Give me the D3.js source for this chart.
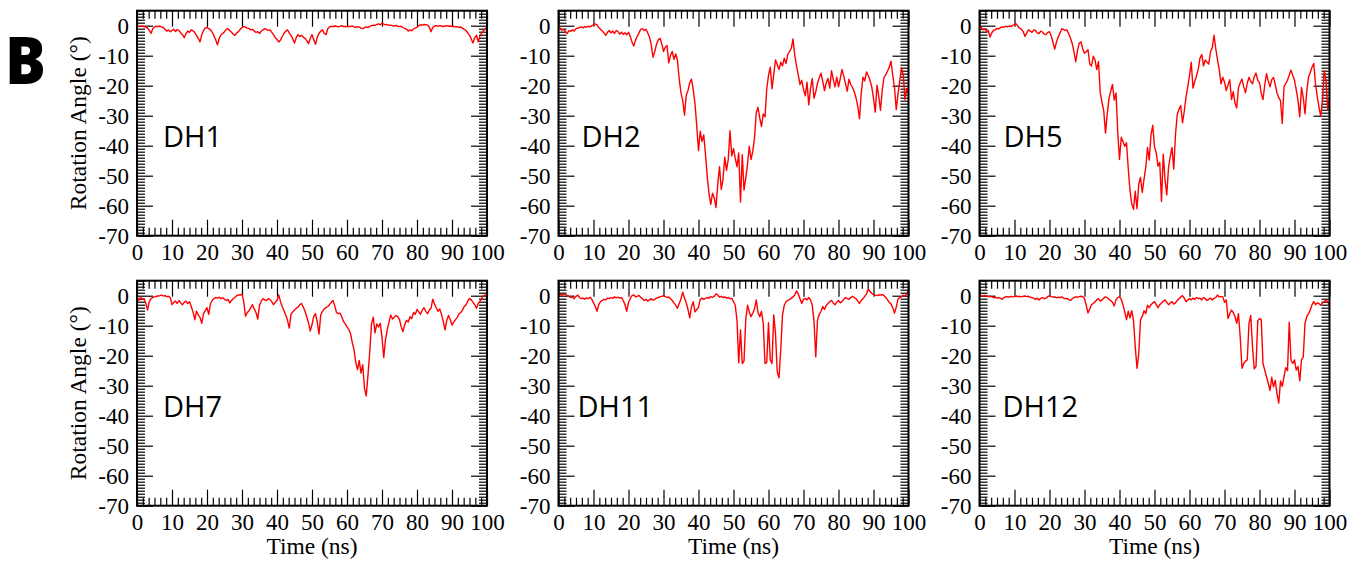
<!DOCTYPE html>
<html>
<head>
<meta charset="utf-8">
<script src="https://cdn.jsdelivr.net/npm/d3@7"></script>
<style>
  body { margin: 0; background: #fff; }
  svg { display: block; }
</style>
</head>
<body>
<svg id="chart" width="1366" height="562"></svg>
<script>
const timeStep = 0.5;

const dh1 = [
  0, -0.2, -0.3, -0.1, -0.4, -0.3, -0.8, -1.5, -2.6, -1.0, -0.4, -0.2, -0.3, -0.1, -0.4, -0.6, -1.2, -1.8, -1.4, -2.0,
  -1.6, -1.2, -1.9, -1.3, -1.6, -2.4, -3.0, -4.0, -2.6, -1.8, -2.2, -1.4, -1.7, -2.3, -3.2, -4.2, -5.4, -3.0, -1.6, -0.8,
  -0.5, -1.0, -1.4, -2.2, -3.4, -4.8, -6.4, -4.2, -3.0, -2.6, -2.0, -1.2, -1.0, -1.6, -2.2, -2.8, -3.2, -2.4, -2.0, -1.2,
  -0.6, -0.3, -0.5, -0.8, -1.0, -1.4, -1.2, -1.8, -2.2, -2.0, -2.6, -1.8, -1.4, -1.0, -1.2, -1.6, -1.4, -2.2, -3.0, -4.0,
  -4.6, -5.4, -4.8, -3.6, -2.6, -1.8, -1.4, -2.4, -3.2, -4.4, -5.8, -4.0, -3.0, -3.6, -3.2, -3.8, -4.2, -5.0, -6.0, -4.2,
  -3.0, -4.6, -6.2, -3.8, -2.6, -1.8, -1.4, -2.6, -3.0, -1.0, -0.4, -0.2, -0.3, -0.1, -0.2, -0.4, -0.2, 0.0, -0.3, -0.2,
  -0.4, -0.2, -0.3, -0.1, -0.4, -0.6, -0.3, -0.5, -0.8, -1.0, -0.6, -0.4, -0.6, -0.2, 0.0, 0.2, 0.1, 0.4, 0.6, 0.3,
  0.8, 0.5, 0.3, 0.4, 0.1, 0.2, 0.0, -0.1, 0.1, -0.2, -0.3, -0.2, -0.6, -0.9, -1.2, -1.8, -1.4, -1.7, -1.1, -0.8,
  -0.5, 0.0, 0.3, 0.2, 0.4, 0.3, 0.2, -0.4, -2.0, -0.6, -0.1, 0.0, -0.2, 0.0, -0.1, -0.3, -0.1, 0.0, -0.2, -0.1,
  -0.3, -0.2, -0.4, -0.3, -0.6, -0.4, -0.8, -1.2, -1.6, -2.4, -3.2, -4.4, -5.8, -4.0, -3.2, -5.4, -3.4, -2.4, -1.6, -1.0,
  -0.6
];

const dh2 = [
  0, -0.8, -1.5, -1.2, -2.0, -2.6, -1.6, -1.9, -1.4, -1.8, -1.0, -0.8, -0.6, -0.4, -0.7, -0.3, -0.5, -0.2, -0.4, 0.0,
  0.3, 0.6, 0.2, -0.6, -1.2, -1.8, -2.4, -3.2, -2.2, -1.6, -2.4, -1.8, -2.6, -1.6, -2.0, -2.8, -2.2, -2.9, -2.4, -3.0,
  -2.2, -3.6, -5.4, -6.8, -4.8, -3.6, -2.4, -1.2, -1.0, -1.6, -1.2, -2.4, -3.8, -6.5, -10.5, -8.6, -6.2, -4.8, -4.2, -6.0,
  -8.6, -7.2, -6.6, -12.4, -9.8, -8.6, -11.2, -9.4, -11.6, -18.0, -22.4, -25.0, -29.8, -23.2, -21.6, -19.0, -17.8, -21.4, -26.0, -33.4,
  -41.6, -35.2, -38.6, -36.4, -43.0, -50.4, -56.0, -59.6, -55.8, -57.4, -60.6, -52.8, -47.0, -54.6, -51.2, -43.8, -48.2, -44.6, -35.0, -43.4,
  -41.0, -44.2, -47.0, -42.4, -58.8, -43.0, -54.8, -51.0, -46.2, -40.2, -44.6, -42.0, -37.4, -29.0, -27.2, -30.8, -33.6, -29.4, -30.4, -21.0,
  -16.6, -13.8, -21.0, -16.2, -11.4, -13.0, -14.6, -12.2, -13.4, -10.8, -12.6, -9.6, -8.6, -7.6, -4.4, -9.8, -13.4, -16.4, -19.6, -18.2,
  -21.2, -23.4, -18.8, -26.4, -21.0, -17.6, -24.2, -22.0, -19.2, -17.4, -15.8, -18.6, -21.6, -19.0, -17.6, -20.8, -15.0, -17.8, -20.4, -17.2,
  -20.4, -17.6, -14.6, -16.8, -19.4, -21.8, -17.8, -19.6, -20.6, -22.0, -24.0, -26.8, -31.0, -22.4, -17.2, -18.4, -15.4, -16.6, -18.2, -20.4,
  -24.2, -28.8, -19.8, -23.6, -28.2, -21.4, -17.2, -16.4, -15.2, -13.8, -11.8, -16.6, -20.6, -28.0, -22.8, -18.4, -14.0, -16.4, -24.6, -20.8,
  -22.6
];

const dh5 = [
  0, -0.6, -1.4, -1.0, -2.0, -1.6, -3.8, -2.4, -1.6, -1.4, -0.9, -1.1, -0.6, -0.4, -0.5, -0.2, -0.4, -0.1, -0.3, 0.1,
  0.4, 0.6, -0.2, -0.9, -1.2, -2.0, -3.6, -2.4, -1.4, -1.8, -2.2, -1.4, -1.6, -2.4, -2.6, -1.8, -2.1, -2.8, -3.0, -2.2,
  -2.0, -3.4, -5.6, -7.8, -5.4, -3.8, -2.4, -1.0, -1.2, -1.6, -1.4, -2.8, -4.2, -6.0, -8.8, -12.0, -8.2, -5.8, -5.4, -7.8,
  -9.2, -8.6, -8.0, -12.8, -13.4, -10.2, -11.4, -14.6, -12.0, -22.4, -25.6, -28.4, -35.8, -29.4, -24.2, -21.8, -19.6, -24.8, -22.4, -35.6,
  -44.6, -37.2, -38.6, -40.2, -39.0, -47.6, -55.0, -59.4, -61.2, -55.2, -61.0, -52.8, -50.6, -55.6, -51.2, -47.2, -40.6, -44.8, -36.4, -33.2,
  -40.4, -42.4, -46.8, -45.6, -58.6, -42.8, -51.2, -56.4, -47.4, -43.6, -40.6, -47.8, -36.2, -29.6, -27.8, -26.6, -32.4, -28.6, -23.8, -20.4,
  -16.6, -12.2, -20.8, -18.6, -16.8, -14.4, -10.8, -9.6, -13.4, -11.4, -12.2, -12.8, -8.6, -7.4, -3.2, -7.6, -11.4, -14.6, -19.4, -17.2,
  -18.8, -21.6, -19.8, -18.0, -24.6, -22.0, -25.8, -27.4, -20.6, -19.0, -17.8, -20.4, -22.4, -19.2, -17.2, -18.6, -19.4, -17.0, -15.8, -18.2,
  -19.0, -22.6, -24.6, -19.8, -16.0, -18.4, -20.4, -18.0, -17.2, -19.6, -22.4, -24.0, -25.0, -32.6, -20.4, -19.2, -18.2, -16.4, -14.8, -16.6,
  -18.2, -21.4, -24.8, -30.4, -20.6, -24.0, -29.4, -22.0, -17.2, -15.6, -13.8, -12.6, -19.4, -23.6, -27.2, -30.2, -24.8, -15.0, -18.2, -28.0,
  -24.2
];

const dh7 = [
  0, -1.6, -0.6, -1.2, -1.0, -2.4, -4.8, -2.0, -1.0, -0.6, -0.4, -0.2, -0.1, 0.0, 0.2, -0.1, 0.0, -0.3, -0.2, -0.6,
  -3.0, -2.2, -1.8, -2.6, -1.6, -2.4, -3.0, -2.2, -1.8, -2.6, -2.0, -3.6, -5.4, -8.0, -5.2, -6.4, -7.2, -9.2, -6.0, -5.0,
  -4.0, -6.2, -2.6, -1.6, -1.0, -0.6, -0.8, -0.5, -1.0, -0.7, -1.2, -1.6, -1.2, -2.4, -1.6, -1.0, -0.5, 0.0, 0.3, 0.2,
  0.5, -2.0, -6.8, -5.6, -5.0, -4.0, -3.0, -4.4, -5.6, -7.8, -3.2, -1.8, -1.0, -1.4, -1.6, -1.0, -1.2, -2.0, -3.0, -2.2,
  -1.6, 0.3, -2.0, -3.6, -5.0, -6.4, -8.2, -10.8, -6.2, -5.4, -4.8, -4.2, -3.8, -3.0, -2.6, -3.8, -5.2, -7.0, -9.0, -11.8,
  -9.6, -7.0, -6.0, -8.8, -12.8, -6.4, -5.2, -4.4, -4.0, -3.6, -3.0, -2.2, -1.6, -3.4, -5.6, -6.0, -5.8, -7.0, -8.6, -9.4,
  -10.4, -11.2, -12.6, -15.6, -18.0, -22.2, -24.6, -21.6, -25.8, -23.0, -31.0, -33.4, -26.4, -18.6, -9.4, -7.2, -12.4, -9.4, -10.4, -9.2,
  -13.8, -20.6, -14.6, -11.4, -8.8, -6.4, -7.8, -7.2, -6.6, -7.0, -8.0, -10.4, -12.0, -9.6, -8.2, -8.8, -7.0, -7.6, -5.6, -6.2,
  -4.6, -5.4, -6.2, -4.8, -4.0, -5.2, -6.0, -4.8, -4.2, -1.2, -2.8, -4.0, -5.2, -4.4, -6.2, -8.6, -11.4, -8.2, -6.6, -8.0,
  -9.8, -8.8, -8.0, -7.2, -6.0, -5.6, -4.8, -3.6, -3.0, -1.8, -0.9, -1.4, -2.2, -3.0, -4.2, -2.6, -1.8, -0.8, 0.0, 0.2,
  0.0
];

const dh11 = [
  0.2, 0.4, 0.2, 0.5, 0.3, 0.1, -0.3, -0.6, -0.4, -1.0, -0.2, 0.2, -0.6, -1.0, -0.8, -1.2, -0.7, -1.0, -0.5, -1.2,
  -2.4, -3.6, -5.2, -3.0, -2.0, -1.6, -1.2, -1.4, -0.8, -1.0, -0.6, -0.9, -0.4, -0.7, -0.5, -0.8, -0.6, -1.6, -3.0, -5.2,
  -2.2, -1.0, 0.0, 0.3, -0.4, -0.2, 0.1, -0.6, -1.0, -1.6, -1.2, -1.8, -1.4, -1.0, -1.5, -1.2, -0.8, -0.6, -0.4, -0.2,
  0.0, -0.3, -0.6, -0.4, -1.0, -1.6, -2.4, -3.2, -4.2, -2.6, -1.0, 1.2, -0.8, -2.4, -4.6, -7.4, -3.6, -2.0, -5.4, -4.6,
  -3.8, -1.2, -0.8, -1.2, -0.9, -0.6, -0.8, -0.3, -0.6, -0.2, 0.6, 0.3, -0.5, -0.2, -0.6, -0.4, -0.8, -0.6, -1.0, -0.9,
  -2.0, -3.2, -8.2, -22.4, -11.4, -22.6, -21.8, -8.0, -3.2, -5.4, -7.0, -5.8, -4.4, -1.4, -5.6, -7.0, -5.2, -9.4, -22.6, -22.2,
  -9.0, -21.4, -22.6, -6.4, -12.6, -25.4, -27.4, -18.0, -6.4, -3.2, -2.0, -1.6, -1.2, -0.9, -0.4, 0.2, 1.6, 0.6, -1.0, -2.6,
  -1.2, -0.9, -1.4, -0.6, -1.4, -3.2, -8.4, -20.4, -8.2, -6.2, -5.2, -3.6, -4.6, -3.2, -2.6, -2.0, -1.6, -2.4, -3.0, -2.2,
  -1.6, -2.4, -2.0, -1.2, -0.6, -1.0, -1.2, -0.6, -0.2, -0.6, -1.0, -1.8, -2.6, -1.6, -1.0, -0.2, 0.6, 2.2, 1.4, 0.8,
  0.4, 0.2, 0.0, 0.3, 0.2, 0.4, 0.0, -0.6, -1.4, -2.2, -2.8, -4.0, -5.8, -3.8, -1.2, -0.6, -0.4, 0.2, -0.2, 0.8,
  1.8
];

const dh12 = [
  0.2, 0.0, -0.2, 0.1, -0.1, -0.3, -0.2, -0.4, -0.6, -0.5, -0.8, -0.6, -0.9, -1.2, -0.6, -0.4, -0.3, -0.5, -0.2, -0.4,
  -0.3, -0.1, -0.3, -0.2, -0.4, -0.2, -0.1, -0.3, -0.2, -0.5, -0.6, -0.9, -1.2, -0.8, -1.4, -0.9, -0.6, -1.0, -0.8, -0.3,
  0.0, -0.3, -0.5, -0.4, -0.7, -0.5, -0.6, -0.4, -0.8, -1.0, -0.9, -1.3, -1.6, -1.0, -0.6, -0.4, -0.5, -0.3, -0.2, -0.3,
  -1.0, -3.2, -5.8, -4.4, -3.0, -2.6, -2.0, -1.4, -1.0, -1.8, -1.4, -0.8, -0.4, -0.7, -1.2, -1.6, -2.2, -3.4, -1.4, -0.6,
  -0.3, -1.2, -3.0, -5.4, -8.0, -5.2, -7.4, -5.0, -8.2, -17.0, -24.2, -19.4, -8.0, -7.0, -5.0, -6.0, -3.2, -4.0, -3.0, -2.4,
  -2.0, -3.0, -4.0, -3.0, -2.4, -1.8, -1.4, -2.2, -3.0, -2.4, -2.0, -2.8, -2.4, -1.6, -1.0, -0.4, 0.0, -0.8, -2.0, -1.4,
  -1.0, -1.4, -0.8, -1.2, -0.6, -1.0, -0.8, -1.4, -0.6, -1.0, -1.6, -1.2, -0.8, -1.4, -0.9, -0.6, 0.2, -0.4, -0.3, -0.3,
  -2.2, -1.4, -7.6, -6.0, -4.8, -5.6, -7.0, -9.2, -6.0, -14.0, -24.2, -22.6, -21.8, -21.4, -9.2, -6.6, -17.0, -24.4, -23.6, -8.4,
  -7.6, -8.0, -22.6, -24.8, -27.0, -29.2, -31.6, -27.2, -30.4, -28.2, -32.8, -35.8, -28.4, -30.2, -27.0, -24.0, -25.0, -8.8, -21.6, -22.6,
  -21.4, -24.8, -23.6, -28.4, -21.4, -20.4, -9.2, -7.0, -6.0, -4.8, -3.0, -2.0, -3.0, -2.4, -2.6, -3.2, -2.4, -2.0, -1.4, -2.0,
  -3.6
];

const panelNames = ["DH1", "DH2", "DH5", "DH7", "DH11", "DH12"];
const panelSeries = [dh1, dh2, dh5, dh7, dh11, dh12];

const xMajor = [0, 10, 20, 30, 40, 50, 60, 70, 80, 90, 100];
const yMajor = [0, -10, -20, -30, -40, -50, -60, -70];
const xTitle = "Time (ns)";
const yTitle = "Rotation Angle (°)";

// layout
const colLeft = [137, 558.5, 979.5];
const rowTop = [10.7, 280.7];
const plotW = 350, plotH = 225;
const labelDx = [26, 23, 24, 26, 19, 23];
const serif = "Liberation Serif, Times New Roman, serif";

const x = d3.scaleLinear().domain([0, 100]).range([0, plotW]);
const y = d3.scaleLinear().domain([-70, 5]).range([plotH, 0]);

// xmgrace style: 5 minor ticks between x majors, 1 unit minor ticks on y
const xMinor = d3.range(0, 100, 10).flatMap(k => d3.range(1, 6).map(j => k + j * 10 / 6));
const yMinor = d3.range(-70, 6).filter(v => v % 10 !== 0);

const svg = d3.select("#chart");

function tickAxis(g, axis, values, size) {
  g.call(axis.tickValues(values).tickSize(size).tickFormat(""));
  g.select(".domain").remove();
  g.selectAll("text").remove();
  g.selectAll("line").attr("stroke", "#000").attr("stroke-width", 1.2);
}

function serifLabels(a) {
  a.select(".domain").remove();
  a.selectAll("text")
    .attr("fill", "#000")
    .style("font-family", serif)
    .style("font-size", "23px");
}

const line = d3.line()
  .x((d, i) => x(i * timeStep))
  .y(d => y(d));

panelSeries.forEach((series, i) => {
  const col = i % 3, row = Math.floor(i / 3);
  const g = svg.append("g")
    .attr("transform", `translate(${colLeft[col]},${rowTop[row]})`);

  // inward ticks on all four sides
  g.append("g").call(tickAxis, d3.axisBottom(x), xMajor, 16);
  g.append("g").call(tickAxis, d3.axisBottom(x), xMinor, 8);
  g.append("g").attr("transform", `translate(0,${plotH})`).call(tickAxis, d3.axisTop(x), xMajor, 16);
  g.append("g").attr("transform", `translate(0,${plotH})`).call(tickAxis, d3.axisTop(x), xMinor, 8);
  g.append("g").call(tickAxis, d3.axisRight(y), yMajor, 16);
  g.append("g").call(tickAxis, d3.axisRight(y), yMinor, 8);
  g.append("g").attr("transform", `translate(${plotW},0)`).call(tickAxis, d3.axisLeft(y), yMajor, 16);
  g.append("g").attr("transform", `translate(${plotW},0)`).call(tickAxis, d3.axisLeft(y), yMinor, 8);

  // tick labels
  g.append("g").attr("transform", `translate(0,${plotH})`)
    .call(d3.axisBottom(x).tickValues(xMajor).tickSize(0).tickPadding(8).tickFormat(d => String(d)))
    .call(serifLabels);
  g.append("g")
    .call(d3.axisLeft(y).tickValues(yMajor).tickSize(0).tickPadding(8).tickFormat(d => String(d)))
    .call(serifLabels);

  // data line
  g.append("path")
    .datum(series)
    .attr("fill", "none")
    .attr("stroke", "#ff0000")
    .attr("stroke-width", 1.4)
    .attr("stroke-linejoin", "round")
    .attr("d", line);

  // frame
  g.append("rect")
    .attr("width", plotW).attr("height", plotH)
    .attr("fill", "none").attr("stroke", "#000").attr("stroke-width", 2);

  // panel name
  g.append("text")
    .attr("x", labelDx[i]).attr("y", y(-40) + 1)
    .style("font-family", "Open Sans, sans-serif")
    .style("font-size", "29px")
    .text(panelNames[i]);

  if (col === 0) {
    g.append("text")
      .attr("transform", `translate(-51,${plotH / 2}) rotate(-90)`)
      .attr("text-anchor", "middle")
      .style("font-family", serif).style("font-size", "23.5px")
      .text(yTitle);
  }
  if (row === 1) {
    g.append("text")
      .attr("x", plotW / 2).attr("y", plotH + 48.5)
      .attr("text-anchor", "middle")
      .style("font-family", serif).style("font-size", "23.5px")
      .text(xTitle);
  }
});

// figure letter
svg.append("text")
  .attr("transform", "translate(5,84) scale(0.92,1)")
  .style("font-family", "Open Sans, sans-serif")
  .style("font-weight", "800")
  .style("font-size", "66px")
  .text("B");
</script>
</body>
</html>
